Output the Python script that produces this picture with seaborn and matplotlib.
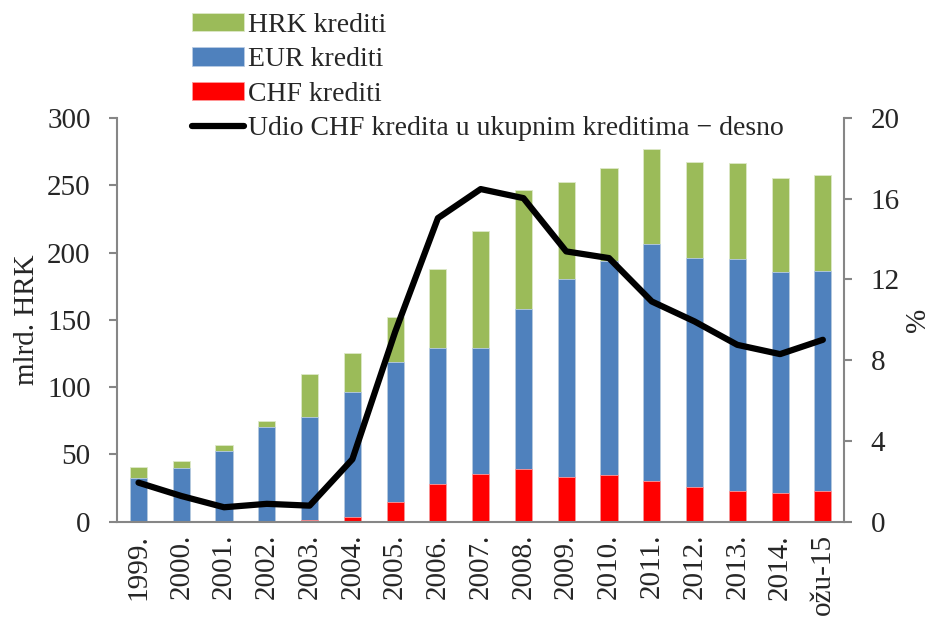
import matplotlib
matplotlib.use("Agg")
import matplotlib.pyplot as plt
import numpy as np
import pandas as pd
import seaborn as sns

years = ["1999.", "2000.", "2001.", "2002.", "2003.", "2004.", "2005.", "2006.",
         "2007.", "2008.", "2009.", "2010.", "2011.", "2012.", "2013.", "2014.", "ožu-15"]
chf = [0.3, 0.3, 0.3, 0.4, 1.2, 3.7, 14.9, 28.3, 35.7, 39.4, 33.5, 34.5, 30.0, 26.0, 23.1, 21.1, 23.1]
eur = [32.4, 39.9, 52.5, 70.0, 76.7, 92.3, 103.4, 100.4, 93.7, 118.5, 146.8, 158.9, 176.3, 169.6, 171.8, 164.1, 162.9]
hrk = [8.2, 4.9, 4.2, 4.5, 31.9, 29.2, 33.7, 59.0, 86.8, 88.8, 72.4, 69.7, 70.7, 71.7, 71.4, 70.2, 71.4]
chf_share = [1.93, 1.27, 0.71, 0.88, 0.79, 3.09, 9.4, 15.04, 16.48, 16.03, 13.39, 13.06,
             10.91, 9.92, 8.76, 8.30, 9.01]

df = pd.DataFrame({"year": years, "chf": chf, "eur": eur, "hrk": hrk, "share": chf_share})
df["chf_eur"] = df["chf"] + df["eur"]
df["total"] = df["chf_eur"] + df["hrk"]
df["pos"] = np.arange(len(df))

sns.set_style("white")
plt.rcParams["font.family"] = ["Liberation Serif", "DejaVu Serif"]
plt.rcParams["font.size"] = 21

grey = "#868686"
fig = plt.figure(figsize=(9.37, 6.18), dpi=100)
ax = fig.add_axes([0.125, 0.156, 0.776, 0.653])

sns.barplot(data=df, x="year", y="total", color="#9BBB59", width=0.4, saturation=1,
            edgecolor="#dde8c8", linewidth=0.6, ax=ax, label="HRK krediti")
sns.barplot(data=df, x="year", y="chf_eur", color="#4F81BD", width=0.4, saturation=1,
            edgecolor="#b9cce4", linewidth=0.6, ax=ax, label="EUR krediti")
sns.barplot(data=df, x="year", y="chf", color="#FF0000", width=0.4, saturation=1,
            edgecolor="#ff9999", linewidth=0.6, ax=ax, label="CHF krediti")

ax2 = ax.twinx()
sns.lineplot(data=df, x="pos", y="share", color="black", linewidth=4.5, ax=ax2,
             label="Udio CHF kredita u ukupnim kreditima \u2212 desno")

ax.set_xlim(-0.5, len(df) - 0.5)
ax.set_ylim(0, 300)
ax.set_yticks(np.arange(0, 301, 50))
ax2.set_ylim(0, 20)
ax2.set_yticks(np.arange(0, 21, 4))

ax.set_xticks(np.arange(len(df)))
ax.set_xticklabels(years, rotation=90)
ax.set_xticks(np.arange(-0.5, len(df), 1), minor=True)
ax.tick_params(axis="x", which="major", length=0, pad=9, labelsize=21)
ax.tick_params(axis="x", which="minor", length=6, width=1.5, color=grey, direction="out")
ax.tick_params(axis="y", length=6, width=1.5, color=grey, direction="out", pad=13,
               left=True, labelsize=21)
ax2.tick_params(axis="y", length=6, width=1.5, color=grey, direction="out", pad=13,
                right=True, labelsize=21)

ax.set_xlabel("")
ax.set_ylabel("mlrd. HRK", labelpad=5, fontsize=21)
ax2.set_xlabel("")
ax2.set_ylabel("%", labelpad=4, fontsize=21)

for a in (ax, ax2):
    a.spines["top"].set_visible(False)
    for s in ("left", "right", "bottom"):
        a.spines[s].set_color(grey)
        a.spines[s].set_linewidth(1.5)
ax.spines["right"].set_visible(False)
ax2.spines["left"].set_visible(False)
ax2.spines["bottom"].set_visible(False)

h1, l1 = ax.get_legend_handles_labels()
h2, l2 = ax2.get_legend_handles_labels()
if ax.get_legend():
    ax.get_legend().remove()
ax2.legend(h1 + h2, l1 + l2, loc="upper left", bbox_to_anchor=(0.195, 0.995),
           bbox_transform=fig.transFigure, frameon=False, fontsize=20,
           handlelength=1.85, handleheight=0.65, labelspacing=0.34, handletextpad=0.15,
           borderaxespad=0.15, borderpad=0.2)

fig.savefig("out.png", dpi=100)
